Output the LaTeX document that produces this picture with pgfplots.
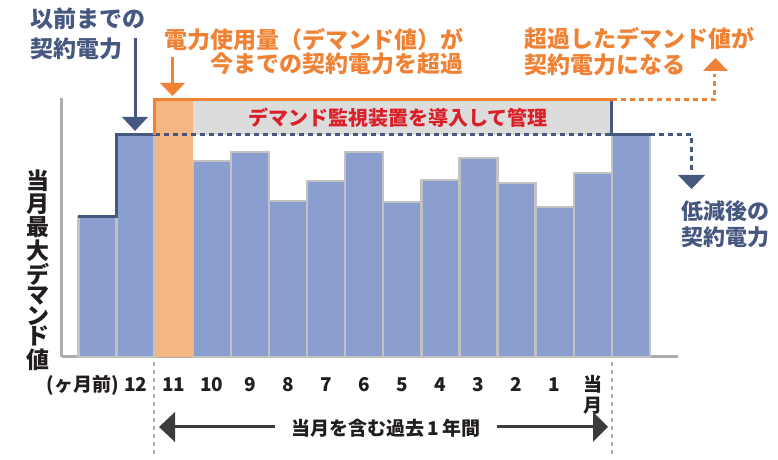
\documentclass[border=0pt]{standalone}
\usepackage{fontspec}
\setmainfont{Noto Sans CJK JP}
\usepackage{pgfplots}
\pgfplotsset{compat=1.18}
\definecolor{barblue}{RGB}{138,159,208}
\definecolor{bargray}{RGB}{194,194,194}
\definecolor{peach}{RGB}{245,183,130}
\definecolor{orng}{RGB}{239,130,52}
\definecolor{navy}{RGB}{70,87,128}
\definecolor{lgray}{RGB}{220,220,220}
\definecolor{redtxt}{RGB}{218,32,40}
\definecolor{axgray}{RGB}{172,172,172}
\definecolor{txtblk}{RGB}{35,30,30}
\definecolor{arrgray}{RGB}{60,60,60}
\newcommand\lab{\fontsize{11.5}{12}\selectfont\bfseries}
\begin{document}
\begin{tikzpicture}
\useasboundingbox (0,0) rectangle (389pt,230pt);
\begin{axis}[
  at={(31pt,51.5pt)}, anchor=south west, scale only axis,
  width=308pt, height=129.5pt,
  xmin=-0.932, xmax=15.236, ymin=0, ymax=259,
  axis x line=bottom, axis y line=left,
  axis line style={-, draw=axgray, line width=1.5pt},
  ytick=\empty,
  xtick={1,...,13},
  xticklabels={12,11,10,9,8,7,6,5,4,3,2,1,{\begin{tabular}[t]{@{}c@{}}当\\月\end{tabular}}},
  major tick length=0pt,
  xticklabel style={anchor=base, yshift=-17.5pt, inner sep=0pt, font=\fontsize{9.5}{9}\selectfont\bfseries, text=txtblk},
  clip=false,
]
% gray band
\addplot[fill=lgray, draw=none] coordinates {(2.5,222) (13.5,222) (13.5,257) (2.5,257)} -- cycle;
% bars
\addplot[ybar, bar width=1, bar shift=0pt, fill=barblue, draw=bargray, line width=1.2pt]
  coordinates {(0,140) (1,222) (3,196) (4,205) (5,156) (6,176) (7,205) (8,155) (9,177) (10,199) (11,174) (12,150) (13,184) (14,222)};
\addplot[ybar, bar width=1, bar shift=0pt, fill=peach, draw=none] coordinates {(2,257)};
% contract lines
\addplot[navy, line width=1.5pt, line join=miter] coordinates {(-0.5,140) (0.5,140) (0.5,222) (1.5,222)};
\addplot[navy, line width=1.5pt, dash pattern=on 2.5pt off 2pt] coordinates {(1.5,222) (13.5,222)};
\addplot[navy, line width=1.5pt, line join=miter] coordinates {(13.5,257) (13.5,222) (14.5,222)};
\addplot[navy, line width=1.5pt, dash pattern=on 2.5pt off 2pt] coordinates {(14.5,222) (15.6,222) (15.6,185)};
\addplot[orng, line width=1.5pt, line join=miter] coordinates {(1.5,222) (1.5,257) (13.5,257)};
\addplot[orng, line width=1.5pt, dash pattern=on 2.5pt off 2pt] coordinates {(13.5,257) (16.2,257) (16.2,283)};
\end{axis}
\begin{scope}[x=0.5pt,y=-0.5pt,shift={(0pt,230pt)}]
% top-left label
\node[anchor=west, text=navy, font=\lab, inner sep=0] at (30,19) {以前までの};
\node[anchor=west, text=navy, font=\lab, inner sep=0] at (30,49) {契約電力};
\draw[navy, line width=1.5pt] (135,38) -- (135,119);
\fill[navy] (122,117) -- (148,117) -- (135,131) -- cycle;
% orange middle label
\node[anchor=east, text=orng, font=\lab, inner sep=0] at (464,40) {電力使用量（デマンド値）が};
\node[anchor=east, text=orng, font=\lab, inner sep=0] at (464,64) {今までの契約電力を超過};
\draw[orng, line width=1.5pt] (172,57) -- (172,84);
\fill[orng] (160,83) -- (185,83) -- (172.5,96) -- cycle;
% right orange label
\node[anchor=west, text=orng, font=\lab, inner sep=0] at (524,39) {超過したデマンド値が};
\node[anchor=west, text=orng, font=\lab, inner sep=0] at (524,65) {契約電力になる};
\fill[orng] (703,71) -- (728,71) -- (715.5,58) -- cycle;
% right navy label
\fill[navy] (678,175) -- (705,175) -- (691.5,189) -- cycle;
\node[anchor=west, text=navy, font=\fontsize{11}{12}\selectfont\bfseries, inner sep=0] at (681,211) {低減後の};
\node[anchor=west, text=navy, font=\fontsize{11}{12}\selectfont\bfseries, inner sep=0] at (681,237) {契約電力};
% red text
\node[text=redtxt, font=\fontsize{10}{11}\selectfont\bfseries, inner sep=0] at (398,118) {デマンド監視装置を導入して管理};
% y label
\node[align=center, font=\fontsize{11.5}{10.25}\selectfont\bfseries, text=txtblk, inner sep=0] at (38,270) {当\\月\\最\\大\\デ\\マ\\ン\\ド\\値};
% unit label
\node[anchor=base, font=\fontsize{9.5}{9}\selectfont\bfseries, text=txtblk, inner sep=0] at (83,392) {(ヶ月前)};
% bottom span
\draw[axgray, line width=1pt, dash pattern=on 2pt off 2pt] (154,362) -- (154,455);
\draw[axgray, line width=1pt, dash pattern=on 2pt off 2pt] (612,362) -- (612,455);
\draw[arrgray, line width=1.5pt] (172,427) -- (275,427);
\draw[arrgray, line width=1.5pt] (497,427) -- (596,427);
\fill[arrgray] (159,427) -- (175,412) -- (175,442) -- cycle;
\fill[arrgray] (608,427) -- (593,412) -- (593,442) -- cycle;
\node[font=\fontsize{9.5}{10}\selectfont\bfseries, text=txtblk, inner sep=0] at (386,428) {当月を含む過去\,1\,年間};
\end{scope}
\end{tikzpicture}
\end{document}
